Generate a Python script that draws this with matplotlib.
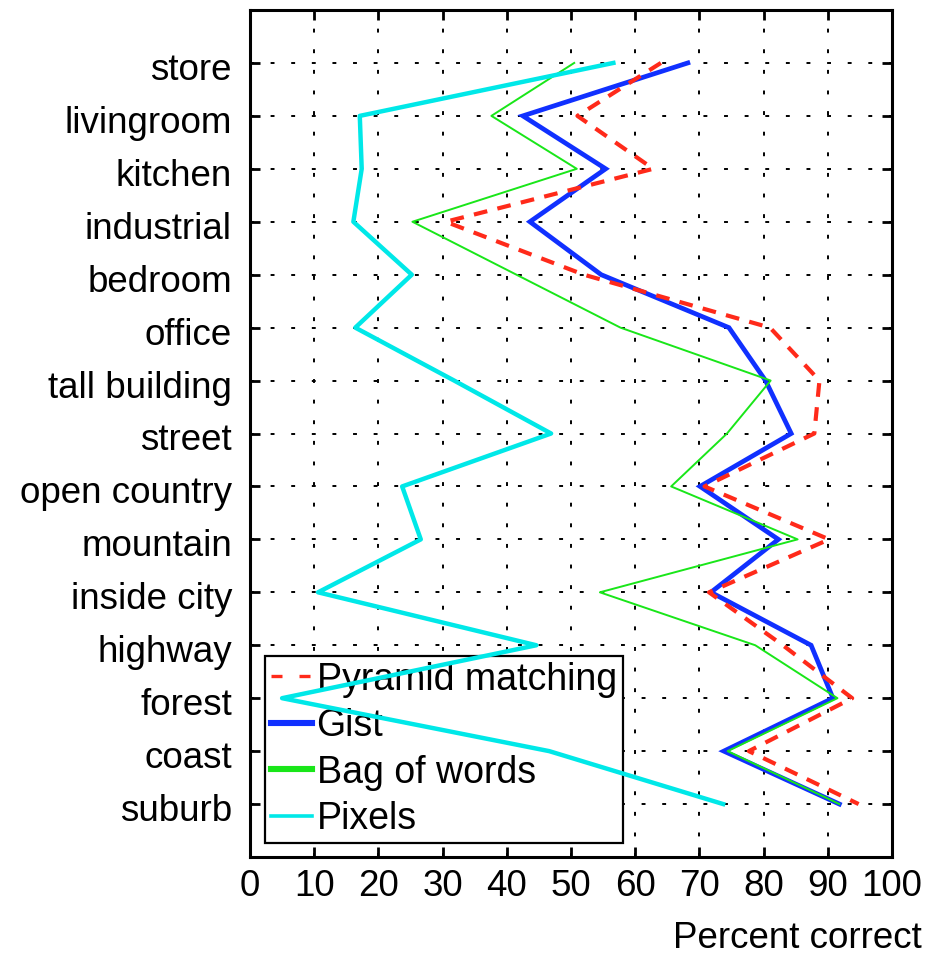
import matplotlib
matplotlib.use("Agg")
import matplotlib.pyplot as plt
from matplotlib.lines import Line2D
from matplotlib.transforms import ScaledTranslation
import numpy as np

plt.rcParams['font.family'] = ['Liberation Sans', 'DejaVu Sans']

# Scene categories, listed top to bottom
categories = ["store", "livingroom", "kitchen", "industrial", "bedroom", "office",
              "tall building", "street", "open country", "mountain", "inside city",
              "highway", "forest", "coast", "suburb"]

# Percent correct per category for each method
pyramid = [64, 51, 62.8, 30.5, 52, 81, 88.7, 87.9, 70.8, 90.2, 71.5, 83, 93.8, 77.7, 94.8]
gist = [68.2, 42.5, 55.4, 43.6, 54.7, 74.6, 80.3, 84.3, 70.1, 82.3, 71.8, 87.4, 90.8, 73.8, 91.8]
bag_of_words = [50.5, 37.6, 50.9, 25.3, 41.5, 57.7, 81.1, 74.3, 65.6, 85.3, 54.5, 78.7, 91.5, 74.4, 91.8]
pixels = [56.6, 17.1, 17.4, 16.1, 25.2, 16.4, 31.8, 46.9, 23.7, 26.6, 10.6, 44.6, 5.0, 46.6, 73.7]

method_names = ['Pyramid matching', 'Gist', 'Bag of words', 'Pixels']
xticks = list(range(0, 101, 10))

fig = plt.figure(figsize=(9.36, 9.56), dpi=100)
ax = fig.add_axes([250/936, 1-857/956, 642/936, 847/956])

n = len(categories)
ypos = np.arange(n, 0, -1)  # store at top

RED, BLUE, GREEN, CYAN = '#ff2a1a', '#1030ff', '#19e619', '#00e8e8'
fs = 26.5

ax.plot(gist, ypos, color=BLUE, lw=3.4, zorder=3, solid_joinstyle='miter')
ax.plot(pyramid, ypos, color=RED, lw=3.0, ls=(0, (3.3, 2.5)), zorder=4)
ax.plot(bag_of_words, ypos, color=GREEN, lw=1.4, zorder=5)
ax.plot(pixels, ypos, color=CYAN, lw=3.2, zorder=6)

ax.set_xlim(0, 100)
ax.set_ylim(0, n + 1)
ax.set_xticks(xticks)
ax.set_xticklabels([str(v) for v in xticks])
ax.set_yticks(ypos)
ax.set_yticklabels(categories)

ax.set_axisbelow(True)
ax.grid(True, color='black', ls=(0, (2, 8.6)), lw=1.4)

ax.tick_params(axis='both', direction='in', length=7, width=2.0, labelsize=fs,
               top=True, right=True)
ax.tick_params(axis='y', pad=13)
ax.tick_params(axis='x', pad=9)
for s in ax.spines.values():
    s.set_linewidth(2.2)

# nudge category labels slightly below their ticks
shift = ScaledTranslation(0, -3.5/100, fig.dpi_scale_trans)
for lab in ax.get_yticklabels():
    lab.set_transform(lab.get_transform() + shift)

fig.text(922/936, 1-938/956, 'Percent correct', ha='right', va='center', fontsize=fs)

handles = [
    Line2D([], [], color=RED, lw=2.4, ls=(0, (3.3, 5.1))),
    Line2D([], [], color=BLUE, lw=4.4),
    Line2D([], [], color=GREEN, lw=4.4),
    Line2D([], [], color=CYAN, lw=2.6),
]
leg = ax.legend(handles, method_names, loc='lower left',
                bbox_to_anchor=(0.023, 0.0165), borderaxespad=0, fontsize=27,
                handlelength=1.1, handletextpad=0.12, labelspacing=0.28,
                borderpad=0.16, fancybox=False, framealpha=1, edgecolor='black')
leg.get_frame().set_linewidth(1.6)
leg.set_zorder(2.5)

fig.savefig('out.png', dpi=100)
